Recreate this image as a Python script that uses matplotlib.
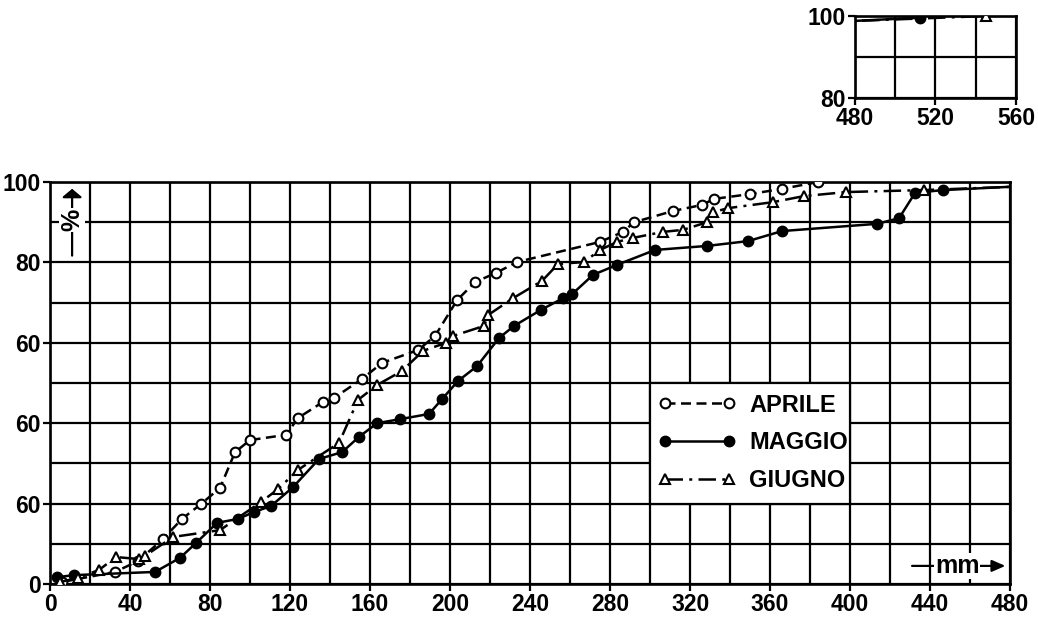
import matplotlib
matplotlib.use("Agg")
import matplotlib.pyplot as plt
from matplotlib.lines import Line2D
from matplotlib.patches import Rectangle

plt.rcParams['font.family'] = ['Liberation Sans Narrow', 'Liberation Sans', 'DejaVu Sans']
plt.rcParams['font.weight'] = 'bold'

# Cumulative curves (mm vs %)
aprile_x = [6, 32.5, 44, 56.5, 66, 75.5, 85, 92.5, 100, 118, 124, 136.5, 142, 156, 166,
            184, 192.5, 203.5, 212.5, 223, 233.5, 275, 286.5, 292, 311.5, 326, 332, 350,
            366, 384]
aprile_y = [0.5, 3.0, 5.7, 11.2, 16.2, 19.9, 23.9, 32.8, 35.8, 37.1, 41.3, 45.3, 46.3,
            51.0, 55.0, 58.2, 61.7, 70.6, 75.1, 77.4, 80.1, 85.1, 87.6, 90.0, 92.8, 94.3,
            95.8, 97.0, 98.3, 100.0]

maggio_x = [3.5, 12, 52.5, 65, 73, 83.5, 94, 102, 110.5, 121.5, 134.5, 146, 154.5, 163.5,
            175, 189.5, 196, 204, 213.5, 224.5, 232, 245.5, 256.5, 261, 271.5, 283.5,
            302.5, 328.5, 349, 366, 413.5, 424.5, 432.5, 446.5, 512.5]
maggio_y = [1.7, 2.2, 3.0, 6.5, 10.2, 15.2, 16.2, 17.9, 19.4, 24.1, 31.1, 32.8, 36.6,
            40.0, 41.0, 42.3, 46.0, 50.5, 54.2, 61.2, 64.2, 68.2, 71.1, 72.1, 76.9, 79.4,
            83.1, 84.1, 85.3, 87.8, 89.6, 91.0, 97.3, 98.0, 99.6]

giugno_x = [5, 14, 24.5, 33, 44.5, 47.5, 61.5, 85, 105.5, 114, 124, 144.5, 154, 163.5,
            176, 186.5, 198, 201.5, 217, 219, 231.5, 246, 254, 267, 275, 283.5, 291.5,
            306.5, 316.5, 328.5, 331.5, 339, 361.5, 377, 398, 437, 545]
giugno_y = [0.5, 1.5, 3.5, 6.7, 6.2, 7.0, 11.7, 13.4, 20.4, 23.6, 28.4, 35.1, 45.8, 49.5,
            53.0, 58.0, 60.0, 61.7, 64.2, 66.9, 71.1, 75.4, 79.6, 80.1, 83.1, 85.1, 86.1,
            87.6, 88.1, 90.0, 92.5, 93.5, 95.0, 96.5, 97.5, 98.0, 100.0]

x_ticks = list(range(0, 481, 40))
y_ticks = [0, 20, 40, 60, 80, 100]
y_labels = ["0", "60", "60", "60", "80", "100"]

inset_x_ticks = [480, 520, 560]
inset_y_ticks = [80, 100]

series = [
    ("APRILE", aprile_x, aprile_y, dict(linestyle=(0, (4, 2.2)), marker="o", mfc="white")),
    ("MAGGIO", maggio_x, maggio_y, dict(linestyle="-", marker="o", mfc="black")),
    ("GIUGNO", giugno_x, giugno_y, dict(linestyle=(0, (7, 2.5, 1.2, 2.5)), marker="^", mfc="white")),
]

FS = 16.5

fig = plt.figure(figsize=(10.38, 6.21), dpi=100)
ax = fig.add_axes([0.0482, 0.0596, 0.9249, 0.6473])
ins = fig.add_axes([0.8237, 0.8422, 0.1551, 0.132])

LW = 1.6
for a in (ax, ins):
    for s in a.spines.values():
        s.set_linewidth(LW + 0.3)
    a.tick_params(direction="out", length=5, width=LW, labelsize=FS, pad=1.5)
    a.grid(True, which="both", color="black", linewidth=LW)
    a.set_axisbelow(True)

handles = []
for name, xs, ys, st in series:
    for a in (ax, ins):
        a.plot(xs, ys, color="black", linewidth=1.8, markersize=7,
               markeredgewidth=1.5, mec="black", clip_on=True, zorder=3, **st)
    handles.append(Line2D([], [], color="black", linewidth=1.8, markersize=7,
                          markeredgewidth=1.5, mec="black", **st))

ax.set_xlim(0, 480)
ax.set_ylim(0, 100)
ax.set_xticks(x_ticks)
ax.set_xticks(range(0, 481, 20), minor=True)
ax.set_yticks(y_ticks)
ax.set_yticklabels(y_labels)
ax.set_yticks(range(0, 101, 10), minor=True)
ax.tick_params(which="minor", length=0)

ins.set_xlim(480, 560)
ins.set_ylim(80, 100)
ins.set_xticks(inset_x_ticks)
ins.set_xticks(range(480, 561, 20), minor=True)
ins.set_yticks(inset_y_ticks)
ins.set_yticks([80, 90, 100], minor=True)
ins.tick_params(which="minor", length=0)

# legend box sits on a blanked part of the grid
ax.add_patch(Rectangle((300, 20), 100, 30, facecolor="white", edgecolor="black",
                       linewidth=LW, zorder=2.5))
leg = ax.legend(handles, [s[0] for s in series], loc="center",
                bbox_to_anchor=(351.5, 35.1), bbox_transform=ax.transData,
                frameon=False, numpoints=2, handlelength=3.3, fontsize=17,
                labelspacing=0.62, handletextpad=0.55)
leg.set_zorder(4)

# axis unit arrows
ax.annotate("", xy=(0.998, 0.045), xytext=(0.895, 0.045), xycoords="axes fraction",
            arrowprops=dict(arrowstyle="-|>,head_length=0.8,head_width=0.35",
                            color="black", lw=LW), zorder=4)
ax.text(0.945, 0.045, "mm", transform=ax.transAxes, ha="center", va="center",
        fontsize=18, bbox=dict(facecolor="white", edgecolor="none", pad=0.5), zorder=5)
ax.annotate("", xy=(0.023, 0.99), xytext=(0.023, 0.81), xycoords="axes fraction",
            arrowprops=dict(arrowstyle="-|>,head_length=0.5,head_width=0.6",
                            color="black", lw=LW), zorder=4)
ax.text(0.023, 0.905, "%", transform=ax.transAxes, ha="center", va="center",
        rotation=90, fontsize=18,
        bbox=dict(facecolor="white", edgecolor="none", pad=0.5), zorder=5)

fig.savefig("out.png", dpi=100)
